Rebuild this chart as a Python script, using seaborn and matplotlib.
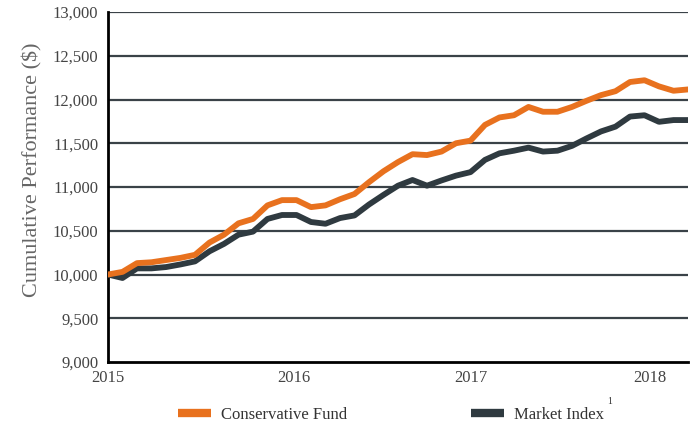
import matplotlib
matplotlib.use("Agg")
import matplotlib.pyplot as plt
from matplotlib.lines import Line2D
from matplotlib.ticker import FuncFormatter
import numpy as np
import pandas as pd
import seaborn as sns

conservative_fund = [
    10000, 10030, 10130, 10140, 10165, 10190, 10225, 10365, 10455, 10585,
    10635, 10790, 10850, 10850, 10770, 10790, 10860, 10920, 11055, 11180,
    11285, 11375, 11365, 11405, 11500, 11530, 11710, 11795, 11820, 11915,
    11860, 11860, 11915, 11985, 12050, 12095, 12200, 12220, 12150, 12100,
    12115,
]
market_index = [
    10000, 9960, 10070, 10070, 10085, 10115, 10150, 10265, 10350, 10455,
    10490, 10635, 10680, 10680, 10600, 10580, 10645, 10675, 10800, 10910,
    11015, 11080, 11015, 11075, 11130, 11170, 11310, 11385, 11415, 11450,
    11405, 11415, 11470, 11555, 11635, 11690, 11805, 11820, 11745, 11765,
    11765,
]
year_labels = ["2015", "2016", "2017", "2018"]
year_ticks = [0, 12.8, 25.0, 37.4]

ORANGE = "#E8711E"
DARK = "#2F3A40"
GRID = "#3A4248"

n = len(conservative_fund)
df = pd.DataFrame({
    "month": np.tile(np.arange(n), 2),
    "value": conservative_fund + market_index,
    "series": ["Conservative Fund"] * n + ["Market Index"] * n,
})

sns.set_theme(style="white")
plt.rcParams["font.family"] = ["Liberation Serif", "DejaVu Serif"]

fig = plt.figure(figsize=(6.94, 4.25), dpi=100)
ax = fig.add_axes([108 / 694, 63 / 425, 580 / 694, 350 / 425])

ax.set_ylim(9000, 13000)
ax.set_yticks(range(9000, 13001, 500))
for y in range(9500, 13001, 500):
    ax.axhline(y, color=GRID, lw=1.6, zorder=1)

sns.lineplot(
    data=df, x="month", y="value", hue="series",
    palette={"Conservative Fund": ORANGE, "Market Index": DARK},
    hue_order=["Market Index", "Conservative Fund"],
    linewidth=4.2, ax=ax, legend=False, zorder=3,
)

ax.set_xlim(0, n - 1)
ax.set_xticks(year_ticks)
ax.set_xticklabels(year_labels)
ax.yaxis.set_major_formatter(FuncFormatter(lambda v, p: f"{int(v):,}"))

for side in ["top", "right"]:
    ax.spines[side].set_visible(False)
for side in ["left", "bottom"]:
    ax.spines[side].set_color("black")
    ax.spines[side].set_linewidth(2)

ax.tick_params(axis="both", which="major", direction="out", length=5, width=1.8,
               color="black", labelsize=12, labelcolor="#444444", pad=2)
ax.tick_params(axis="x", pad=1)
ax.set_xlabel("")
ax.set_ylabel("Cumulative Performance ($)", fontsize=16, color="#666666")
ax.yaxis.set_label_coords(-0.113, 0.55)

handles = [
    Line2D([], [], color=ORANGE, lw=6, solid_capstyle="butt"),
    Line2D([], [], color=DARK, lw=6, solid_capstyle="butt"),
]
fig.legend(handles, ["Conservative Fund", "Market Index"], ncol=2,
           loc="center left", bbox_to_anchor=(163 / 694, 10 / 425),
           frameon=False, fontsize=12, handlelength=2.0, handletextpad=0.6,
           columnspacing=7.4, labelcolor="#333333")
fig.text(607 / 694, 1 - 397 / 425, "1", fontsize=7, color="#333333", va="top")

fig.savefig("out.png", dpi=100)
